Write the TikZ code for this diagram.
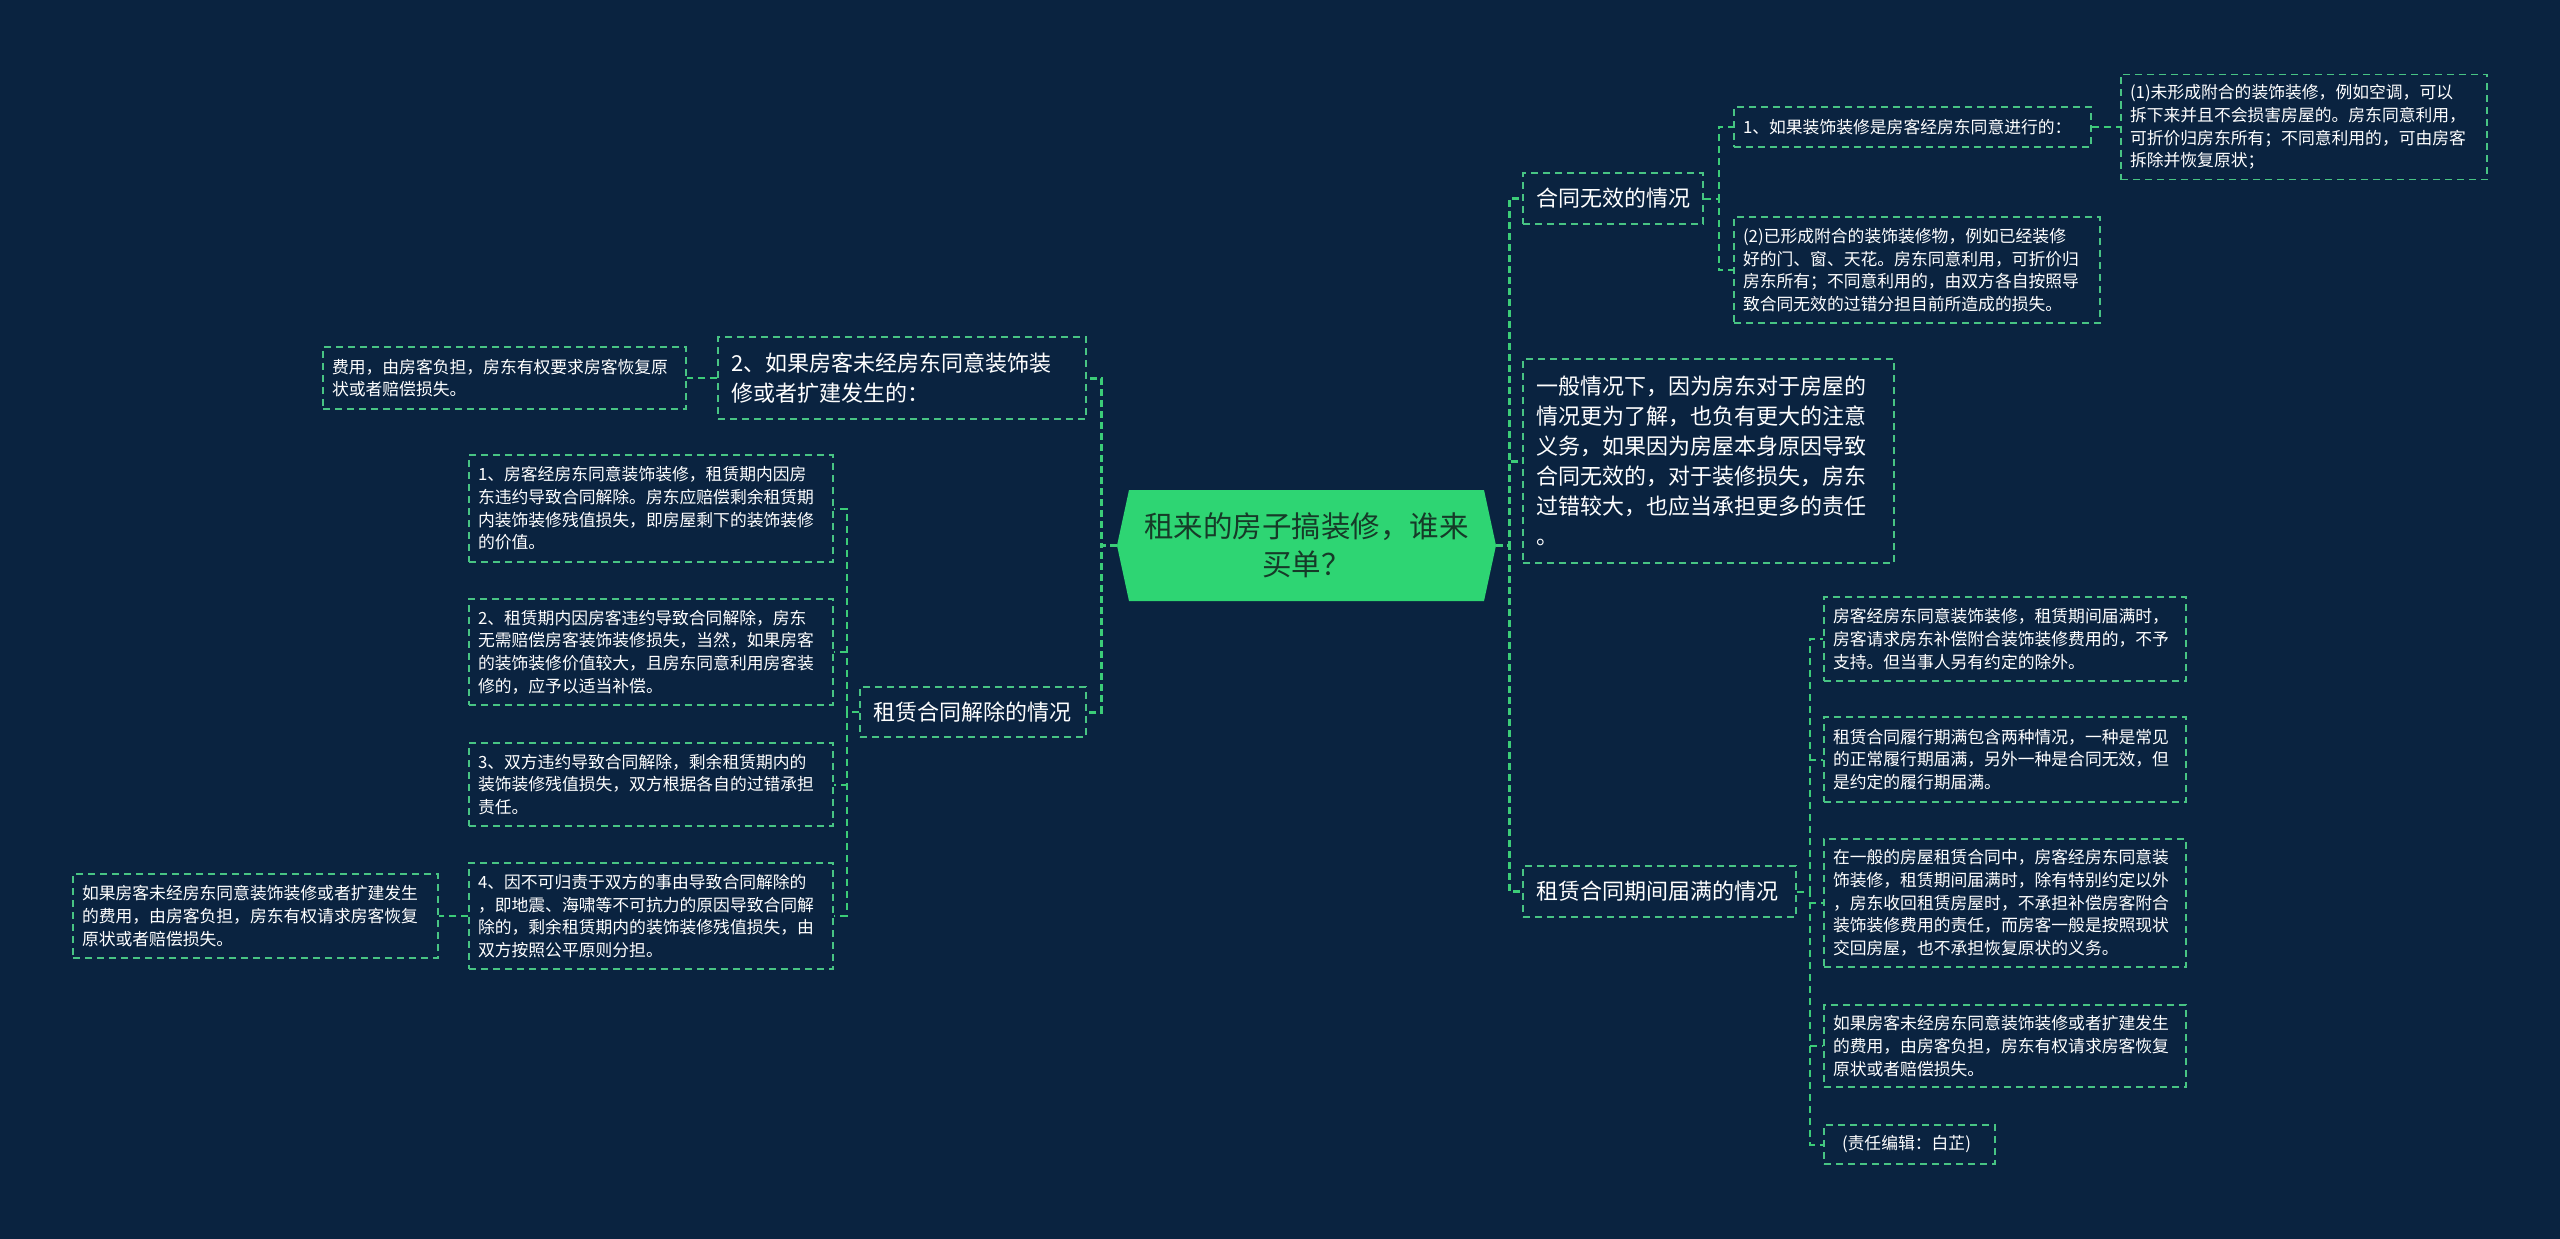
\documentclass[tikz,border=0pt]{standalone}
\usepackage{fontspec}
\setmainfont{Noto Sans CJK SC}
\usetikzlibrary{calc}
\definecolor{bgnavy}{RGB}{10,35,64}
\definecolor{rootgreen}{RGB}{46,213,115}
\definecolor{roottext}{RGB}{22,58,40}
\definecolor{linkgreen}{RGB}{60,204,120}
\definecolor{boxgreen}{RGB}{72,196,132}
\tikzset{
  leaf/.style 2 args={draw=boxgreen, line width=1.5pt, dash pattern=on 7pt off 5pt,
    text=white, font=\fontsize{16.8}{22.7}\selectfont, align=left,
    inner xsep=9pt, inner ysep=0pt, text width=#1pt, minimum height=#2pt},
  topic/.style 2 args={leaf={#1}{#2}, font=\fontsize{22}{30}\selectfont, inner xsep=13pt},
  elbow/.style={to path={let \p1=(\tikztostart), \p2=(\tikztotarget) in
    -- ({0.5*\x1+0.5*\x2},\y1) |- (\tikztotarget)}}
}
\begin{document}
\begin{tikzpicture}[x=1pt,y=-1pt]
  \fill[bgnavy] (0,0) rectangle (2560,1239);
  \useasboundingbox (0,0) rectangle (2560,1239);
  % centre
  \node[minimum width=379pt, minimum height=111pt, inner sep=0pt, align=center,
    text=roottext, font=\fontsize{29.5}{38}\selectfont,
    path picture={\fill[rootgreen] (path picture bounding box.west)
      -- ([xshift=12pt]path picture bounding box.north west)
      -- ([xshift=-12pt]path picture bounding box.north east)
      -- (path picture bounding box.east)
      -- ([xshift=-12pt]path picture bounding box.south east)
      -- ([xshift=12pt]path picture bounding box.south west) -- cycle;}]
    (root) at (1306.5,545.5) {租来的房子搞装修，谁来\\买单？};
  % right side
  \node[topic={154}{51}] (r1) at (1613,198.5) {合同无效的情况};
  \node[leaf={339}{40}] (r1a) at (1912.5,127) {1、如果装饰装修是房客经房东同意进行的：};
  \node[leaf={348}{105}] (r1a1) at (2304,127) {(1)未形成附合的装饰装修，例如空调，可以\\拆下来并且不会损害房屋的。房东同意利用，\\可折价归房东所有；不同意利用的，可由房客\\拆除并恢复原状；};
  \node[leaf={348}{106}] (r1b) at (1917,270) {(2)已形成附合的装饰装修物，例如已经装修\\好的门、窗、天花。房东同意利用，可折价归\\房东所有；不同意利用的，由双方各自按照导\\致合同无效的过错分担目前所造成的损失。};
  \node[topic={345}{204}] (r2) at (1708.5,461) {一般情况下，因为房东对于房屋的\\情况更为了解，也负有更大的注意\\义务，如果因为房屋本身原因导致\\合同无效的，对于装修损失，房东\\过错较大，也应当承担更多的责任\\。};
  \node[topic={247}{51}] (r3) at (1659.5,891.5) {租赁合同期间届满的情况};
  \node[leaf={344}{84}] (r3a) at (2005,639) {房客经房东同意装饰装修，租赁期间届满时，\\房客请求房东补偿附合装饰装修费用的，不予\\支持。但当事人另有约定的除外。};
  \node[leaf={344}{85}] (r3b) at (2005,759.5) {租赁合同履行期满包含两种情况，一种是常见\\的正常履行期届满，另外一种是合同无效，但\\是约定的履行期届满。};
  \node[leaf={344}{128}] (r3c) at (2005,903) {在一般的房屋租赁合同中，房客经房东同意装\\饰装修，租赁期间届满时，除有特别约定以外\\，房东收回租赁房屋时，不承担补偿房客附合\\装饰装修费用的责任，而房客一般是按照现状\\交回房屋，也不承担恢复原状的义务。};
  \node[leaf={344}{82}] (r3d) at (2005,1046) {如果房客未经房东同意装饰装修或者扩建发生\\的费用，由房客负担，房东有权请求房客恢复\\原状或者赔偿损失。};
  \node[leaf={135}{39}, inner xsep=18pt] (r3e) at (1909.5,1144.5) {(责任编辑：白芷)};
  % left side
  \node[topic={342}{82}] (l1) at (902,378) {2、如果房客未经房东同意装饰装\\修或者扩建发生的：};
  \node[leaf={345}{62}] (l1a) at (504.5,378) {费用，由房客负担，房东有权要求房客恢复原\\状或者赔偿损失。};
  \node[topic={200}{50}] (l2) at (973,712) {租赁合同解除的情况};
  \node[leaf={346}{107}] (l2a) at (651,508.5) {1、房客经房东同意装饰装修，租赁期内因房\\东违约导致合同解除。房东应赔偿剩余租赁期\\内装饰装修残值损失，即房屋剩下的装饰装修\\的价值。};
  \node[leaf={346}{106}] (l2b) at (651,652) {2、租赁期内因房客违约导致合同解除，房东\\无需赔偿房客装饰装修损失，当然，如果房客\\的装饰装修价值较大，且房东同意利用房客装\\修的，应予以适当补偿。};
  \node[leaf={346}{83}] (l2c) at (651,784.5) {3、双方违约导致合同解除，剩余租赁期内的\\装饰装修残值损失，双方根据各自的过错承担\\责任。};
  \node[leaf={346}{106}] (l2d) at (651,916) {4、因不可归责于双方的事由导致合同解除的\\，即地震、海啸等不可抗力的原因导致合同解\\除的，剩余租赁期内的装饰装修残值损失，由\\双方按照公平原则分担。};
  \node[leaf={347}{84}] (l2d1) at (255.5,916) {如果房客未经房东同意装饰装修或者扩建发生\\的费用，由房客负担，房东有权请求房客恢复\\原状或者赔偿损失。};
  \begin{scope}[draw=linkgreen, line width=3pt, dash pattern=on 7pt off 4pt]
    \draw (root.east) to[elbow] (r1.west);
    \draw (root.east) to[elbow] (r2.west);
    \draw (root.east) to[elbow] (r3.west);
    \draw (root.west) to[elbow] (l1.east);
    \draw (root.west) to[elbow] (l2.east);
  \end{scope}
  \begin{scope}[draw=linkgreen, line width=2pt, dash pattern=on 7pt off 5pt]
    \draw (r1.east) to[elbow] (r1a.west);
    \draw (r1.east) to[elbow] (r1b.west);
    \draw (r1a.east) to[elbow] (r1a1.west);
    \draw (r3.east) to[elbow] (r3a.west);
    \draw (r3.east) to[elbow] (r3b.west);
    \draw (r3.east) to[elbow] (r3c.west);
    \draw (r3.east) to[elbow] (r3d.west);
    \draw (r3.east) to[elbow] (r3e.west);
    \draw (l1.west) to[elbow] (l1a.east);
    \draw (l2.west) to[elbow] (l2a.east);
    \draw (l2.west) to[elbow] (l2b.east);
    \draw (l2.west) to[elbow] (l2c.east);
    \draw (l2.west) to[elbow] (l2d.east);
    \draw (l2d.west) to[elbow] (l2d1.east);
  \end{scope}
\end{tikzpicture}
\end{document}
